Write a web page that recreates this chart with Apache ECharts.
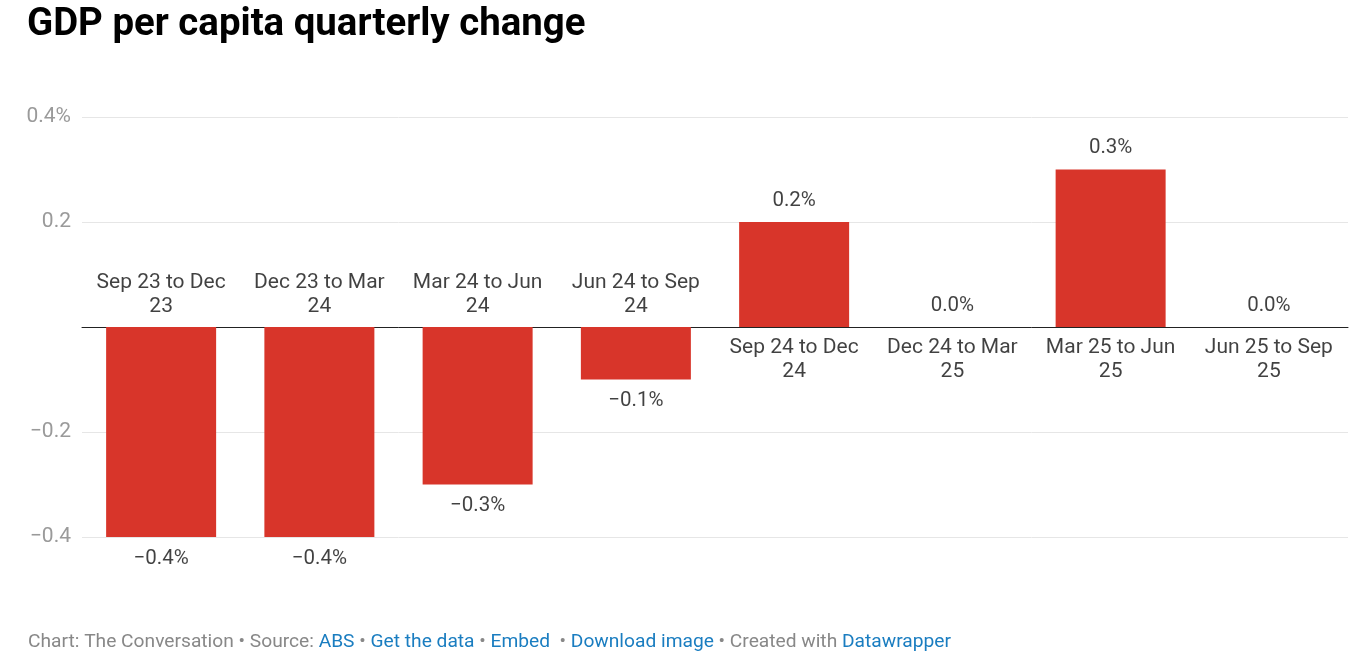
<!DOCTYPE html>
<html>
<head>
<meta charset="utf-8">
<script src="https://cdn.jsdelivr.net/npm/echarts@6/dist/echarts.min.js"></script>
<style>
html,body{margin:0;padding:0;background:#fff;}
#chart{width:1360px;height:668px;}
</style>
</head>
<body>
<div id="chart"></div>
<script>
const categories = ["Sep 23 to Dec 23","Dec 23 to Mar 24","Mar 24 to Jun 24","Jun 24 to Sep 24","Sep 24 to Dec 24","Dec 24 to Mar 25","Mar 25 to Jun 25","Jun 25 to Sep 25"];
const values = [-0.4, -0.4, -0.3, -0.1, 0.2, 0.0, 0.3, 0.0];
const yTicks = [-0.4, -0.2, 0, 0.2, 0.4];

const FONT = 'Roboto, "Noto Sans", sans-serif';
const wrap = s => { const i = s.lastIndexOf(' '); return s.slice(0, i) + '\n' + s.slice(i + 1); };
const fmtPct = v => (v < 0 ? '\u2212' : '') + Math.abs(v).toFixed(1) + '%';

const valueLabelData = values.map((v, i) => ({
  value: [i, v],
  label: { position: v < 0 ? 'bottom' : 'top' }
}));
const catLabelData = values.map((v, i) => ({
  value: [i, 0],
  label: { position: v < 0 ? 'top' : 'bottom' }
}));

const chart = echarts.init(document.getElementById('chart'), null, {renderer: 'canvas'});
chart.setOption({
  animation: false,
  backgroundColor: '#fff',
  title: {
    text: 'GDP per capita quarterly change',
    left: 22, top: 1,
    textStyle: {fontFamily: FONT, fontWeight: 'bold', fontSize: 38.4, color: '#000'}
  },
  grid: {left: 82, right: 12, top: 117, bottom: 131, containLabel: false},
  xAxis: {
    type: 'category',
    data: categories,
    axisLine: {show: true, onZero: true, lineStyle: {color: '#222', width: 1}},
    axisTick: {show: false},
    axisLabel: {show: false},
    splitLine: {show: false}
  },
  yAxis: {
    type: 'value',
    min: yTicks[0], max: yTicks[yTicks.length - 1], interval: 0.2,
    axisLine: {show: false},
    axisTick: {show: false},
    axisLabel: {
      margin: 11,
      fontFamily: FONT, fontSize: 21, color: '#9a9a9a',
      formatter: v => {
        const r = Math.round(v * 10) / 10;
        if (r === 0) return '';
        if (r === yTicks[yTicks.length - 1]) return r.toFixed(1) + '%';
        return (r < 0 ? '\u2212' : '') + Math.abs(r).toFixed(1);
      }
    },
    splitLine: {show: true, lineStyle: {color: '#e6e6e6', width: 1}}
  },
  series: [
    {
      type: 'bar',
      data: values,
      barWidth: 110,
      itemStyle: {color: '#d8352a'},
      silent: true,
      z: 2
    },
    {
      type: 'scatter',
      data: valueLabelData,
      symbolSize: 1,
      itemStyle: {color: 'rgba(0,0,0,0)'},
      silent: true,
      label: {
        show: true,
        distance: 10,
        fontFamily: FONT, fontSize: 20.5, color: '#111', lineHeight: 22,
        formatter: p => fmtPct(p.value[1])
      },
      z: 5
    },
    {
      type: 'scatter',
      data: catLabelData,
      symbolSize: 1,
      itemStyle: {color: 'rgba(0,0,0,0)'},
      silent: true,
      label: {
        show: true,
        distance: 8,
        fontFamily: FONT, fontSize: 21, color: '#111', lineHeight: 24, align: 'center',
        formatter: p => wrap(categories[p.value[0]])
      },
      z: 5
    }
  ],
  graphic: [
    {
      type: 'text',
      left: 28, top: 633,
      style: {
        text: '{g|Chart: The Conversation • Source: }{b|ABS}{g| • }{b|Get the data}{g| • }{b|Embed}{g|  • }{b|Download image}{g| • Created with }{b|Datawrapper}',
        rich: {
          g: {fontFamily: FONT, fontSize: 19.2, fill: '#888'},
          b: {fontFamily: FONT, fontSize: 19.2, fill: '#1a7dc0'}
        }
      }
    }
  ]
});
</script>
</body>
</html>
